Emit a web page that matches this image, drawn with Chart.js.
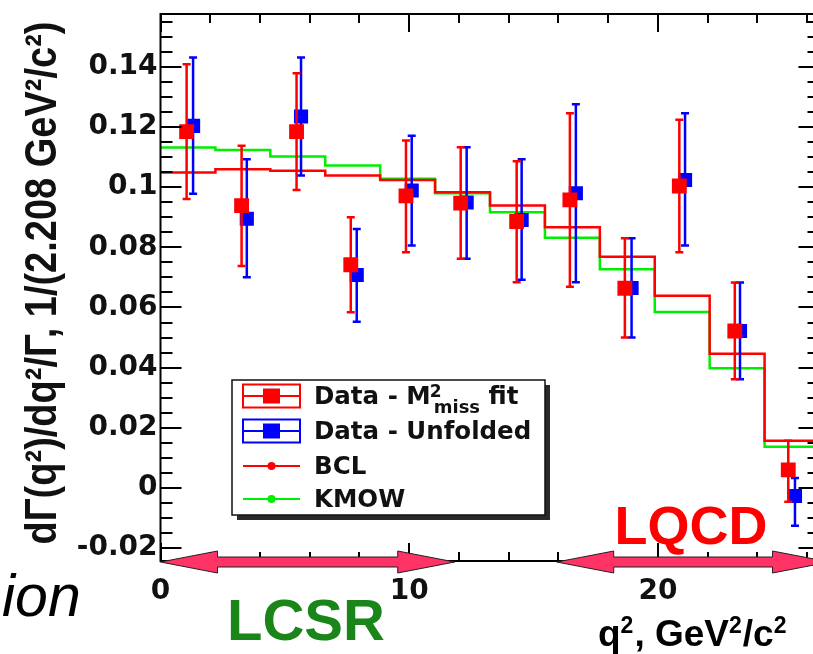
<!DOCTYPE html>
<html>
<head>
<meta charset="utf-8">
<script src="https://cdn.jsdelivr.net/npm/chart.js@4.4.1/dist/chart.umd.min.js"></script>
<style>
  html, body { margin: 0; padding: 0; background: #fff; overflow: hidden; }
  #wrap { width: 840px; height: 654px; }
</style>
</head>
<body>
<div id="wrap"><canvas id="spectrum" width="840" height="654"></canvas></div>
<script>
// q^2 bin edges (GeV^2/c^2), 12 bins
const binEdges = [0, 2.208, 4.416, 6.624, 8.832, 11.04, 13.248, 15.456, 17.664, 19.872, 22.08, 24.288, 26.496];

// theory predictions per bin
const bclValues = [0.1049, 0.106, 0.1055, 0.1039, 0.1024, 0.0983, 0.0939, 0.0867, 0.0769, 0.0639, 0.0446, 0.0157];
const kmowValues = [0.1132, 0.1124, 0.1102, 0.1072, 0.1028, 0.098, 0.0917, 0.0832, 0.0727, 0.0585, 0.0398, 0.0137];

// data - M2miss fit
const fitQ2 = [1.05, 3.26, 5.47, 7.65, 9.87, 12.07, 14.32, 16.46, 18.67, 20.86, 23.09, 25.24];
const fitValues = [0.1185, 0.0939, 0.1185, 0.0742, 0.0971, 0.0947, 0.0886, 0.0958, 0.0664, 0.1004, 0.0522, 0.006];
const fitHigh = [0.1409, 0.1138, 0.1379, 0.09, 0.1155, 0.1133, 0.1086, 0.1246, 0.083, 0.1224, 0.0683, 0.0157];
const fitLow = [0.0961, 0.0738, 0.0991, 0.0584, 0.0784, 0.0762, 0.0684, 0.0669, 0.05, 0.0784, 0.0361, -0.0046];

// data - unfolded
const unfoldedQ2 = [1.31, 3.47, 5.65, 7.89, 10.1, 12.31, 14.52, 16.7, 18.94, 21.09, 23.3, 25.51];
const unfoldedValues = [0.1204, 0.0895, 0.1235, 0.0708, 0.0989, 0.0949, 0.0891, 0.098, 0.0665, 0.1024, 0.0522, -0.0027];
const unfoldedHigh = [0.1431, 0.1093, 0.1431, 0.0861, 0.1171, 0.1133, 0.1093, 0.1276, 0.083, 0.1246, 0.0683, 0.0033];
const unfoldedLow = [0.0978, 0.0701, 0.1039, 0.0553, 0.0806, 0.0762, 0.0692, 0.0684, 0.05, 0.0806, 0.0361, -0.0126];

const xTickValues = [0, 10, 20];
const xTickLabels = ["0", "10", "20"];
const yTickValues = [-0.02, 0, 0.02, 0.04, 0.06, 0.08, 0.1, 0.12, 0.14];
const yTickLabels = ["-0.02", "0", "0.02", "0.04", "0.06", "0.08", "0.1", "0.12", "0.14"];
// inward ROOT ticks (major + minor)
const xFrameTicks = [0, 2, 4, 6, 8, 10, 12, 14, 16, 18, 20, 22, 24, 26];
const yFrameTicks = [-0.02, -0.015, -0.01, -0.005, 0, 0.005, 0.01, 0.015, 0.02, 0.025, 0.03, 0.035, 0.04,
  0.045, 0.05, 0.055, 0.06, 0.065, 0.07, 0.075, 0.08, 0.085, 0.09, 0.095, 0.1, 0.105, 0.11, 0.115, 0.12,
  0.125, 0.13, 0.135, 0.14, 0.145, 0.15, 0.155];

// validity ranges marked with arrows
const lcsrRange = [0, 11.83];
const lqcdRange = [15.93, 26.9];

const PLOT_FONT = '"DejaVu Sans", sans-serif';
const SLIDE_FONT = '"Liberation Sans", Arial, sans-serif';

function toSteps(values) {
  return binEdges.map((x, i) => ({ x: x, y: values[Math.min(i, values.length - 1)] }));
}

function toPoints(qs, vals, lows, highs) {
  return qs.map((q, i) => ({ x: q, y: vals[i], yMin: lows[i], yMax: highs[i] }));
}

// vertical error bars with small caps, drawn under the markers
const errorBars = {
  id: "errorBars",
  beforeDatasetDraw(chart, args) {
    const ds = chart.data.datasets[args.index];
    if (!ds.barColor) return;
    const y = chart.scales.y;
    const ctx = chart.ctx;
    ctx.save();
    ctx.strokeStyle = ds.barColor;
    ctx.lineWidth = 2.5;
    args.meta.data.forEach((pt, i) => {
      const d = ds.data[i];
      const top = y.getPixelForValue(d.yMax);
      const bot = y.getPixelForValue(d.yMin);
      ctx.beginPath();
      ctx.moveTo(pt.x, top);
      ctx.lineTo(pt.x, bot);
      ctx.moveTo(pt.x - 4, top);
      ctx.lineTo(pt.x + 4, top);
      ctx.moveTo(pt.x - 4, bot);
      ctx.lineTo(pt.x + 4, bot);
      ctx.stroke();
    });
    ctx.restore();
  },
};

function drawFrame(chart) {
  const ctx = chart.ctx;
  const a = chart.chartArea;
  const ys = chart.scales.y;
  const xs = chart.scales.x;
  ctx.strokeStyle = "#000";
  ctx.lineWidth = 2;
  ctx.beginPath();
  ctx.rect(a.left, a.top, a.right - a.left, a.bottom - a.top);
  yFrameTicks.forEach((v) => {
    const py = Math.round(ys.getPixelForValue(v));
    const len = yTickValues.includes(v) ? 21 : 12;
    ctx.moveTo(a.left, py);
    ctx.lineTo(a.left + len, py);
    ctx.moveTo(a.right, py);
    ctx.lineTo(a.right - len, py);
  });
  xFrameTicks.forEach((v) => {
    const px = Math.round(xs.getPixelForValue(v));
    const len = xTickValues.includes(v) ? 18 : 9;
    ctx.moveTo(px, a.bottom);
    ctx.lineTo(px, a.bottom - len);
    ctx.moveTo(px, a.top);
    ctx.lineTo(px, a.top + len);
  });
  ctx.stroke();
}

function drawArrow(ctx, x1, x2, yc) {
  const head = 57, hh = 11, sh = 5;
  ctx.beginPath();
  ctx.moveTo(x1, yc);
  ctx.lineTo(x1 + head, yc - hh);
  ctx.lineTo(x1 + head, yc - sh);
  ctx.lineTo(x2 - head, yc - sh);
  ctx.lineTo(x2 - head, yc - hh);
  ctx.lineTo(x2, yc);
  ctx.lineTo(x2 - head, yc + hh);
  ctx.lineTo(x2 - head, yc + sh);
  ctx.lineTo(x1 + head, yc + sh);
  ctx.lineTo(x1 + head, yc + hh);
  ctx.closePath();
  ctx.fillStyle = "#ff3366";
  ctx.fill();
  ctx.strokeStyle = "#222";
  ctx.lineWidth = 1;
  ctx.stroke();
}

// text with superscripts: parts are [text, isSup]
function drawSupText(ctx, parts, x, y, size, font) {
  let tx = x;
  parts.forEach(([t, sup]) => {
    ctx.font = "bold " + (sup ? Math.round(size * 0.62) : size) + "px " + font;
    ctx.fillText(t, tx, sup ? y - size * 0.36 : y);
    tx += ctx.measureText(t).width + (sup ? 1 : 0);
  });
}

function drawLegend(chart) {
  const ctx = chart.ctx;
  const box = { left: 232, top: 380, right: 545, bottom: 515 };
  ctx.fillStyle = "#2a2a2a";
  ctx.fillRect(box.left + 5, box.bottom, box.right - box.left, 5);
  ctx.fillRect(box.right, box.top + 5, 5, box.bottom - box.top);
  ctx.fillStyle = "#fff";
  ctx.fillRect(box.left, box.top, box.right - box.left, box.bottom - box.top);
  ctx.strokeStyle = "#111";
  ctx.lineWidth = 1.5;
  ctx.strokeRect(box.left, box.top, box.right - box.left, box.bottom - box.top);

  const rows = [396, 431, 466, 499];
  const entries = chart.data.datasets.slice().sort((a, b) => a.legendIndex - b.legendIndex);
  entries.forEach((ds, i) => {
    const cy = rows[i];
    const color = ds.barColor || ds.borderColor;
    ctx.strokeStyle = color;
    ctx.fillStyle = color;
    ctx.lineWidth = 2;
    if (ds.barColor) {
      ctx.strokeRect(243, cy - 11.5, 57, 23);
      ctx.beginPath();
      ctx.moveTo(243, cy);
      ctx.lineTo(300, cy);
      ctx.stroke();
      ctx.fillRect(263, cy - 7.5, 17, 15);
    } else {
      ctx.beginPath();
      ctx.moveTo(243, cy);
      ctx.lineTo(300, cy);
      ctx.stroke();
      ctx.beginPath();
      ctx.arc(271.5, cy, 4, 0, Math.PI * 2);
      ctx.fill();
    }
    // label text, with optional super/subscript part
    ctx.fillStyle = "#111";
    ctx.textBaseline = "alphabetic";
    ctx.textAlign = "left";
    let tx = 314;
    const base = cy + 8;
    ds.legendParts.forEach((part) => {
      if (part.t) {
        ctx.font = "bold 24.5px " + PLOT_FONT;
        ctx.fillText(part.t, tx, base);
        tx += ctx.measureText(part.t).width;
      } else {
        ctx.font = "bold 17px " + PLOT_FONT;
        ctx.fillText(part.sup, tx - 1, base - 7);
        ctx.font = "bold 18px " + PLOT_FONT;
        ctx.fillText(part.sub, tx + 3, base + 9);
        tx += ctx.measureText(part.sub).width + 3;
      }
    });
  });
}

function drawSlideText(chart) {
  const ctx = chart.ctx;
  const x = chart.scales.x;
  const yc = chart.chartArea.bottom + 1;
  drawArrow(ctx, x.getPixelForValue(lcsrRange[0]), x.getPixelForValue(lcsrRange[1]), yc);
  drawArrow(ctx, x.getPixelForValue(lqcdRange[0]), x.getPixelForValue(lqcdRange[1]), yc);

  // y axis title
  ctx.save();
  ctx.translate(56, 283);
  ctx.rotate(-Math.PI / 2);
  ctx.scale(1, 1.15);
  ctx.fillStyle = "#111";
  ctx.font = "bold 38px " + SLIDE_FONT;
  ctx.textAlign = "center";
  ctx.textBaseline = "alphabetic";
  ctx.fillText("d\u0393(q\u00b2)/dq\u00b2/\u0393, 1/(2.208 GeV\u00b2/c\u00b2)", 0, 0);
  ctx.restore();

  ctx.textBaseline = "alphabetic";
  ctx.textAlign = "center";
  ctx.fillStyle = "#ff0000";
  ctx.font = "bold 54px " + SLIDE_FONT;
  ctx.fillText("LQCD", 691, 544);

  ctx.fillStyle = "#1a861a";
  ctx.font = "bold 58px " + SLIDE_FONT;
  ctx.fillText("LCSR", 306, 640);

  ctx.fillStyle = "#000";
  ctx.textAlign = "left";
  drawSupText(ctx, [["q", false], ["2", true], [", GeV", false], ["2", true], ["/c", false], ["2", true]], 598, 646, 37, SLIDE_FONT);

  ctx.font = "italic 59px " + SLIDE_FONT;
  ctx.fillText("ion", 2, 616);
}

// frame with ticks, arrows, texts, legend
const overlay = {
  id: "overlay",
  afterDraw(chart) {
    const ctx = chart.ctx;
    [drawFrame, drawSlideText, drawLegend].forEach((fn) => {
      ctx.save();
      fn(chart);
      ctx.restore();
    });
  },
};

const tickFont = { family: PLOT_FONT, weight: "bold", size: 28 };

new Chart(document.getElementById("spectrum"), {
  type: "scatter",
  plugins: [errorBars, overlay],
  data: {
    datasets: [
      {
        label: "Data - M\u00b2miss fit",
        legendIndex: 0,
        legendParts: [{ t: "Data - M" }, { sup: "2", sub: "miss" }, { t: " fit" }],
        data: toPoints(fitQ2, fitValues, fitLow, fitHigh),
        barColor: "#ff0000",
        pointStyle: "rect",
        pointRadius: 10.5,
        pointBackgroundColor: "#ff0000",
        pointBorderWidth: 0,
        order: 0,
      },
      {
        label: "Data - Unfolded",
        legendIndex: 1,
        legendParts: [{ t: "Data - Unfolded" }],
        data: toPoints(unfoldedQ2, unfoldedValues, unfoldedLow, unfoldedHigh),
        barColor: "#0000ff",
        pointStyle: "rect",
        pointRadius: 10,
        pointBackgroundColor: "#0000ff",
        pointBorderWidth: 0,
        order: 1,
      },
      {
        label: "BCL",
        legendIndex: 2,
        legendParts: [{ t: "BCL" }],
        data: toSteps(bclValues),
        showLine: true,
        stepped: "before",
        borderColor: "#ff0000",
        borderWidth: 2.5,
        pointRadius: 0,
        fill: false,
        order: 2,
      },
      {
        label: "KMOW",
        legendIndex: 3,
        legendParts: [{ t: "KMOW" }],
        data: toSteps(kmowValues),
        showLine: true,
        stepped: "before",
        borderColor: "#00ee00",
        borderWidth: 2.5,
        pointRadius: 0,
        fill: false,
        order: 3,
      },
    ],
  },
  options: {
    responsive: false,
    animation: false,
    devicePixelRatio: 1,
    layout: { padding: { top: 14, right: 20.5, bottom: 0, left: 0 } },
    plugins: {
      legend: { display: false },
      tooltip: { enabled: false },
    },
    scales: {
      x: {
        type: "linear",
        min: 0,
        max: binEdges[binEdges.length - 1],
        afterBuildTicks: (s) => {
          s.ticks = xTickValues.map((v) => ({ value: v }));
        },
        afterFit: (s) => {
          s.height = 93;
          s.paddingLeft = 0;
          s.paddingRight = 0;
        },
        ticks: {
          autoSkip: false,
          maxRotation: 0,
          padding: 14,
          color: "#111",
          font: tickFont,
          callback: (v) => xTickLabels[xTickValues.indexOf(v)],
        },
        grid: { display: false, drawTicks: false },
        border: { display: false },
      },
      y: {
        type: "linear",
        min: -0.0243,
        max: 0.1576,
        afterBuildTicks: (s) => {
          s.ticks = yTickValues.map((v) => ({ value: v }));
        },
        afterFit: (s) => {
          s.width = 160.5;
          s.paddingTop = 0;
          s.paddingBottom = 0;
        },
        ticks: {
          autoSkip: false,
          padding: 3,
          color: "#111",
          font: tickFont,
          callback: (v) => yTickLabels[yTickValues.indexOf(v)],
        },
        grid: { display: false, drawTicks: false },
        border: { display: false },
      },
    },
  },
});
</script>
</body>
</html>
